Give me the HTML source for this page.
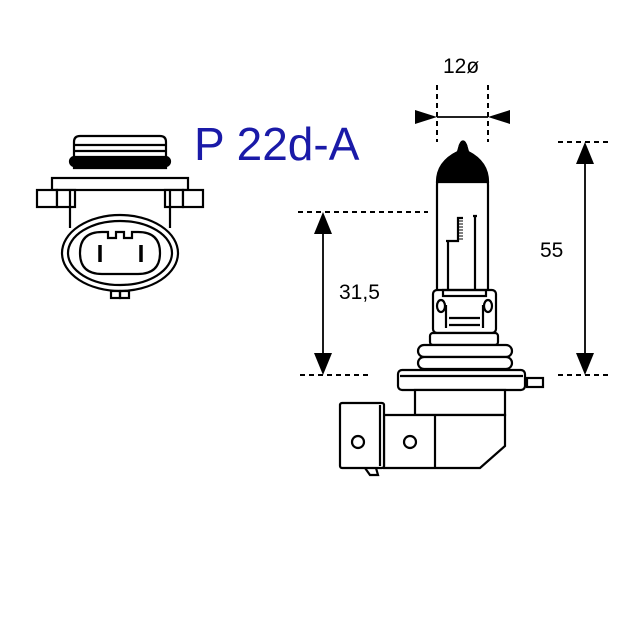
<!DOCTYPE html>
<html><head><meta charset="utf-8"><style>html,body{margin:0;padding:0;background:#fff}svg{display:block}</style></head><body>
<svg width="640" height="640" viewBox="0 0 640 640" xmlns="http://www.w3.org/2000/svg">
<g fill="none" stroke="#000" stroke-width="2.2">
<!-- left connector -->
<path d="M74 168 V142 Q74 136 80 136 H160 Q166 136 166 142 V168 Z" fill="#fff"/>
<line x1="74" y1="145" x2="166" y2="145"/>
<line x1="74" y1="151" x2="166" y2="151"/>
<rect x="70" y="157" width="100" height="9" rx="4.5" fill="#000"/>
<rect x="52" y="178" width="136" height="12" fill="#fff"/>
<rect x="37" y="190" width="20" height="17" fill="#fff"/>
<rect x="57" y="190" width="18" height="17" fill="#fff"/>
<rect x="165" y="190" width="18" height="17" fill="#fff"/>
<rect x="183" y="190" width="20" height="17" fill="#fff"/>
<path d="M70 190 V228 M170 190 V228"/>
<ellipse cx="120" cy="253" rx="58" ry="38" fill="#fff"/>
<ellipse cx="120" cy="253" rx="52" ry="32"/>
<path d="M80 253 Q80 232 102 232 H108 V238 H116 V232 H124 V238 H132 V232 H138 Q160 232 160 253 Q160 274 138 274 H102 Q80 274 80 253 Z"/>
<line x1="100" y1="245" x2="100" y2="262" stroke-width="3.5"/>
<line x1="141" y1="245" x2="141" y2="262" stroke-width="3.5"/>
<rect x="111" y="291" width="9" height="7"/>
<rect x="120" y="291" width="9" height="7"/>

<!-- bulb -->
<path d="M437 290 V185 Q437 162 458 152 L460 145 Q463 138 466 145 L468 152 Q488 162 488 185 V290" fill="#fff"/>
<path d="M437 182 Q437 162 458 152 L460 145 Q463 138 466 145 L468 152 Q488 162 488 182 Z" fill="#000"/>
<path d="M448 290 V240 M446 241 H458 V218 H463 M475 290 V216 M473 216 H477"/>
<path d="M458 218 H463 M458 221 H463 M458 224 H463 M458 227 H463 M458 230 H463 M458 233 H463 M458 236 H463 M458 239 H463" stroke-width="1"/>
<rect x="433" y="290" width="63" height="43" rx="4" fill="#fff"/>
<rect x="443" y="290" width="43" height="6"/>
<path d="M446 305 V328 M483 305 V328 M449 318 H480 M449 325 H480"/>
<ellipse cx="441" cy="306" rx="4" ry="6"/><ellipse cx="488" cy="306" rx="4" ry="6"/>
<rect x="430" y="333" width="68" height="12" rx="3" fill="#fff"/>
<rect x="418" y="345" width="94" height="12" rx="6" fill="#fff"/>
<rect x="418" y="357" width="94" height="12" rx="6" fill="#fff"/>
<rect x="398" y="370" width="127" height="20" rx="4" fill="#fff"/>
<line x1="400" y1="376" x2="523" y2="376"/>
<rect x="527" y="378" width="16" height="9" fill="#fff"/>
<rect x="415" y="390" width="90" height="25" fill="#fff"/>
<path d="M384 415 H505 V446 L480 468 H384 Z" fill="#fff"/>
<line x1="435" y1="415" x2="435" y2="468"/>
<rect x="340" y="403" width="44" height="65" rx="2" fill="#fff"/>
<path d="M380 405 V466"/>
<path d="M365 468 L370 475 H378 L376 468"/>
<circle cx="358" cy="442" r="6"/>
<circle cx="410" cy="442" r="6"/>
</g>

<!-- dimensions -->
<g stroke="#000" stroke-width="2" stroke-dasharray="5,4" fill="none">
<line x1="437" y1="85" x2="437" y2="142"/>
<line x1="488" y1="85" x2="488" y2="142"/>
<line x1="558" y1="142" x2="612" y2="142"/>
<line x1="558" y1="375" x2="612" y2="375"/>
<line x1="298" y1="212" x2="428" y2="212"/>
<line x1="300" y1="375" x2="372" y2="375"/>
</g>
<g stroke="#000" stroke-width="1.8">
<line x1="437" y1="117" x2="488" y2="117"/>
<line x1="585" y1="150" x2="585" y2="365"/>
<line x1="323" y1="220" x2="323" y2="365"/>
</g>
<g fill="#000">
<polygon points="415,110 415,124 437,117"/>
<polygon points="510,110 510,124 488,117"/>
<polygon points="585,142 576,164 594,164"/>
<polygon points="585,375 576,353 594,353"/>
<polygon points="323,212 314,234 332,234"/>
<polygon points="323,375 314,353 332,353"/>
</g>
<g font-family="Liberation Sans, sans-serif" font-size="21" fill="#000">
<text x="443" y="73">12ø</text>
<text x="540" y="257">55</text>
<text x="339" y="299">31,5</text>
</g>
<text x="194" y="160" font-family="Liberation Sans, sans-serif" font-size="46" fill="#1a1aa8">P 22d-A</text>
</svg>
</body></html>
